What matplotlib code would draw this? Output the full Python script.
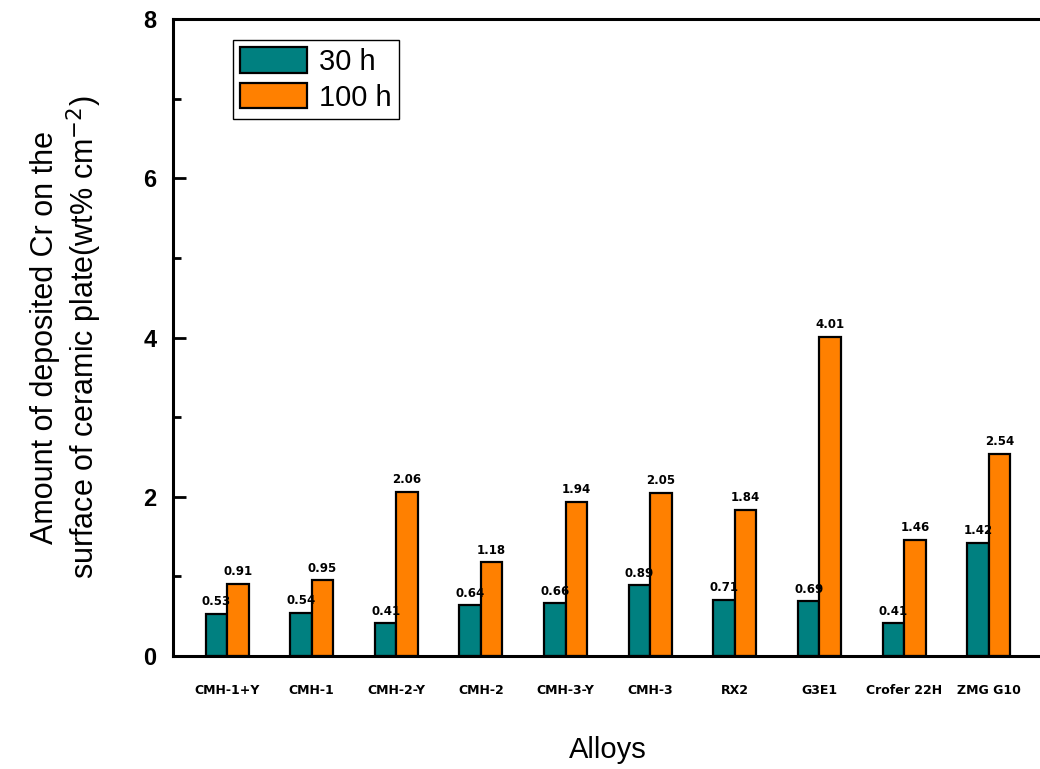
import matplotlib
matplotlib.use("Agg")
import matplotlib.pyplot as plt
import numpy as np
from matplotlib.ticker import MultipleLocator

alloys = ["CMH-1+Y", "CMH-1", "CMH-2-Y", "CMH-2", "CMH-3-Y", "CMH-3",
          "RX2", "G3E1", "Crofer 22H", "ZMG G10"]
cr_30h = [0.53, 0.54, 0.41, 0.64, 0.66, 0.89, 0.71, 0.69, 0.41, 1.42]
cr_100h = [0.91, 0.95, 2.06, 1.18, 1.94, 2.05, 1.84, 4.01, 1.46, 2.54]

plt.rcParams['font.family'] = ['Liberation Sans', 'DejaVu Sans']

fig = plt.figure(figsize=(10.4, 7.69), dpi=100)
ax = fig.add_axes([0.1663, 0.1469, 0.8365, 0.8283])

x = np.arange(len(alloys))
w = 0.254
b1 = ax.bar(x - w / 2, cr_30h, w, color="#008080", edgecolor="black",
            linewidth=1.6, label="30 h")
b2 = ax.bar(x + w / 2, cr_100h, w, color="#FF8000", edgecolor="black",
            linewidth=1.6, label="100 h")

for bars, vals in ((b1, cr_30h), (b2, cr_100h)):
    for b, v in zip(bars, vals):
        ax.text(b.get_x() + b.get_width() / 2, v + 0.07, "%.2f" % v,
                ha="center", va="bottom", fontsize=8.5, fontweight="bold",
                family="DejaVu Sans")

ax.set_xlim(-0.64, 9.64)
ax.set_ylim(0, 8)
ax.yaxis.set_major_locator(MultipleLocator(2))
ax.yaxis.set_minor_locator(MultipleLocator(1))
ax.tick_params(axis="y", which="major", direction="in", length=9, width=2,
               labelsize=17, pad=12)
ax.tick_params(axis="y", which="minor", direction="in", length=6, width=2)
ax.tick_params(axis="x", length=0, pad=20)
ax.set_xticks(x)
ax.set_xticklabels(alloys, fontsize=9, fontweight="bold", family="DejaVu Sans")
for t in ax.get_yticklabels():
    t.set_fontweight("bold")

for s in ax.spines.values():
    s.set_linewidth(2.2)

ax.set_xlabel("Alloys", fontsize=21, labelpad=28)
ax.set_ylabel("Amount of deposited Cr on the\nsurface of ceramic plate(wt% cm$^{-2}$)",
              fontsize=22, labelpad=28, linespacing=1.15)

leg = ax.legend(loc="upper left", bbox_to_anchor=(0.069, 0.967), fontsize=21,
                fancybox=False, framealpha=1, edgecolor="black",
                handlelength=2.3, handleheight=0.95, handletextpad=0.4,
                borderpad=0.25, labelspacing=0.25, borderaxespad=0)
leg.get_frame().set_linewidth(1.0)

fig.savefig("out.png", dpi=100)
